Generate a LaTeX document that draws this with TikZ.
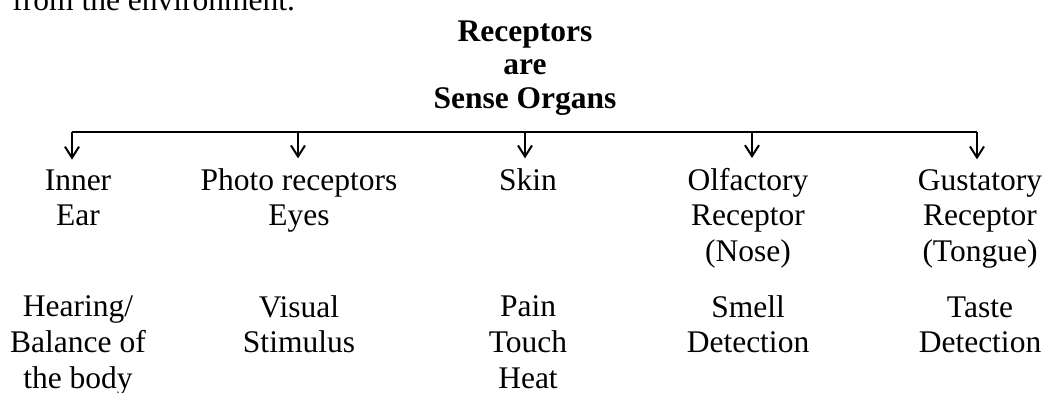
\documentclass[tikz,border=0pt]{standalone}
\usepackage{fontspec}
\setmainfont{Liberation Serif}
\usepackage{tikz}
\usetikzlibrary{arrows.meta,positioning}
\tikzset{
  organ/.style={align=center, anchor=base, inner xsep=0pt, inner ysep=4.7pt,
    font=\fontsize{15.75}{17.75}\selectfont},
  role/.style={organ},
  headline/.style={align=center, anchor=base, inner sep=0pt,
    font=\fontsize{15.75}{16.75}\selectfont\bfseries},
  bus/.style={line width=1pt},
  arr/.style={-{Straight Barb[length=5.5pt, width=7pt]}, line width=1pt}
}
\begin{document}
\begin{tikzpicture}[x=0.5pt,y=0.5pt]
  \useasboundingbox (0,0) rectangle (1046,392);
  \clip (0,0) rectangle (1046,392);
  % (base of a node = base of its last line)
  \node[anchor=base west, inner sep=0pt, font=\fontsize{15.75}{17.75}\selectfont] (intro) at (12,381) {from the environment.};
  \node[headline] (title) at (525,284) {Receptors\\are\\Sense Organs};
  % receptors
  \node[organ] (ear) at (78,166.5) {Inner\\Ear};
  \node[organ] (eye) at (299,166.5) {Photo receptors\\Eyes};
  \node[organ] (skin) at (528,202) {Skin};
  \node[organ] (nose) at (748,131) {Olfactory\\Receptor\\(Nose)};
  \node[organ] (tongue) at (980,131) {Gustatory\\Receptor\\(Tongue)};
  % what they sense
  \node[role] (hear) at (78,4) {Hearing/\\Balance of\\the body};
  \node[role] (see) at (299,39.5) {Visual\\Stimulus};
  \node[role] (feel) at (528,4) {Pain\\Touch\\Heat};
  \node[role] (smell) at (748,39.5) {Smell\\Detection};
  \node[role] (taste) at (980,39.5) {Taste\\Detection};
  \coordinate (b1) at (72,260);
  \coordinate (b2) at (298,260);
  \coordinate (b3) at (525,260);
  \coordinate (b4) at (752,260);
  \coordinate (b5) at (977,260);
  \draw[bus] (b1) -- (b5);
  \draw[arr] (b1) -- (b1 |- ear.north);
  \draw[arr] (b2) -- (b2 |- eye.north);
  \draw[arr] (b3) -- (b3 |- skin.north);
  \draw[arr] (b4) -- (b4 |- nose.north);
  \draw[arr] (b5) -- (b5 |- tongue.north);
\end{tikzpicture}
\end{document}
